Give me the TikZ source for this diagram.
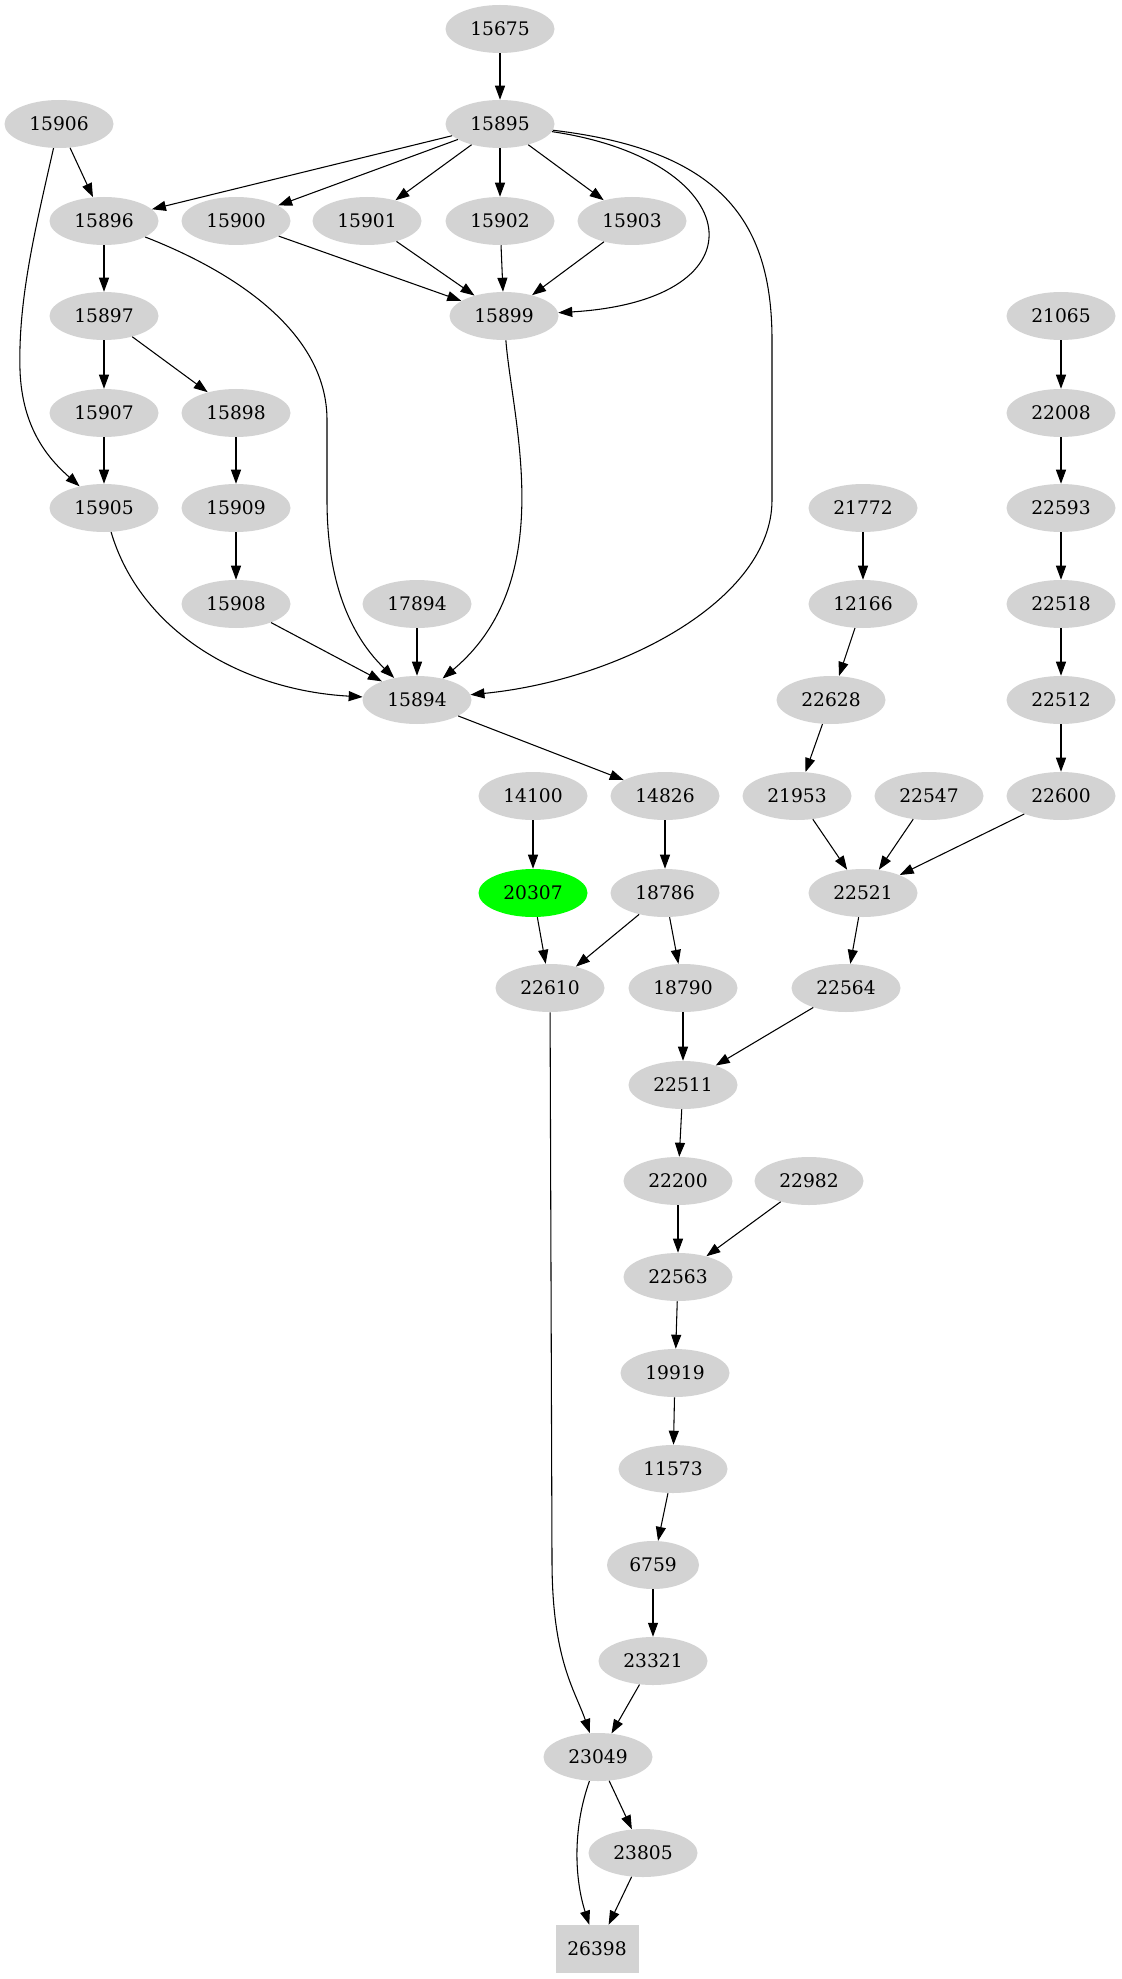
\documentclass[tikz,border=0pt]{standalone}
\usepackage{fontspec}
\setmainfont{DejaVu Serif}
\usetikzlibrary{shapes.geometric}
\usetikzlibrary{arrows.meta}

\definecolor{nodegray}{HTML}{D3D3D3}
\definecolor{hitgreen}{HTML}{00FF00}

\begin{document}
\begin{tikzpicture}[x=0.75pt,y=-0.75pt,
  vtx/.style={ellipse, fill=nodegray, inner sep=0pt, minimum width=81.75pt, minimum height=36pt, font=\fontsize{14pt}{17pt}\selectfont},
  arr/.style={line width=0.8pt, -{Triangle[length=10.5pt,width=7.5pt]}}]
\useasboundingbox (0,0) rectangle (1121,1979);

\foreach \n/\x/\y in {15675/500/29, 15906/59/124, 15895/500/124,
  15896/104/221, 15900/236/221, 15901/367/221, 15902/500/221, 15903/632/221,
  15897/104/316, 15899/504/316, 21065/1061/316,
  15907/104/413, 15898/236/413, 22008/1061/413,
  15905/104/508, 15909/236/508, 21772/863/508, 22593/1061/508,
  15908/236/604, 17894/417/604, 12166/863/604, 22518/1061/604,
  15894/417/700, 22628/831/700, 22512/1061/700,
  14100/533/796, 14826/665/796, 21953/797/796, 22547/929/796, 22600/1061/796,
  18786/665/893, 22521/863/893,
  22610/550/988, 18790/683/988, 22564/846/988,
  22511/683/1085, 22200/678/1181, 22982/809/1181, 22563/678/1277,
  19919/675/1373, 11573/673/1469, 23321/653/1661,
  23049/598/1757, 23805/643/1853}
  \node[vtx] (n\n) at (\x,\y) {\n};
\node[vtx, fill=hitgreen] (n20307) at (533,893) {20307};
\node[vtx, minimum width=69pt] (n6759) at (653,1565) {6759};
\node[rectangle, fill=nodegray, inner sep=0pt, minimum width=62.25pt, minimum height=36pt, font=\fontsize{14pt}{17pt}\selectfont] (n26398) at (597,1949) {26398};

\foreach \a/\b in {15675/15895, 15906/15896, 15895/15896, 15895/15900, 15895/15901,
  15895/15902, 15895/15903, 15896/15897, 15900/15899, 15901/15899, 15902/15899,
  15903/15899, 15897/15907, 15897/15898, 15907/15905, 15898/15909, 15909/15908,
  15908/15894, 17894/15894, 21065/22008, 22008/22593, 22593/22518, 22518/22512,
  22512/22600, 21772/12166, 12166/22628, 22628/21953, 21953/22521, 22547/22521,
  22600/22521, 15894/14826, 14100/20307, 14826/18786, 20307/22610, 18786/22610,
  18786/18790, 22521/22564, 18790/22511, 22564/22511, 22511/22200, 22200/22563,
  22982/22563, 22563/19919, 19919/11573, 11573/6759, 6759/23321, 23321/23049,
  23049/23805, 23805/26398}
  \draw[arr] (n\a) -- (n\b);

\draw[arr] (n15906) .. controls (35,230) and (18,300) .. (20,370) .. controls (22,430) and (50,460) .. (n15905);
\draw[arr] (n15895) .. controls (745,160) and (770,300) .. (n15899);
\draw[arr] (n15895) .. controls (720,150) and (772,220) .. (772,340) -- (772,500) .. controls (772,600) and (620,680) .. (n15894);
\draw[arr] (n15896) .. controls (230,270) and (327,330) .. (327,420) -- (327,500) .. controls (327,590) and (355,640) .. (n15894);
\draw[arr] (n15899) .. controls (512,420) and (560,580) .. (n15894);
\draw[arr] (n15905) .. controls (140,630) and (240,690) .. (n15894);
\draw[arr] (n22610) -- (552,1560) .. controls (552,1660) and (575,1690) .. (n23049);
\draw[arr] (n23049) .. controls (572,1830) and (575,1880) .. (n26398);
\end{tikzpicture}
\end{document}
